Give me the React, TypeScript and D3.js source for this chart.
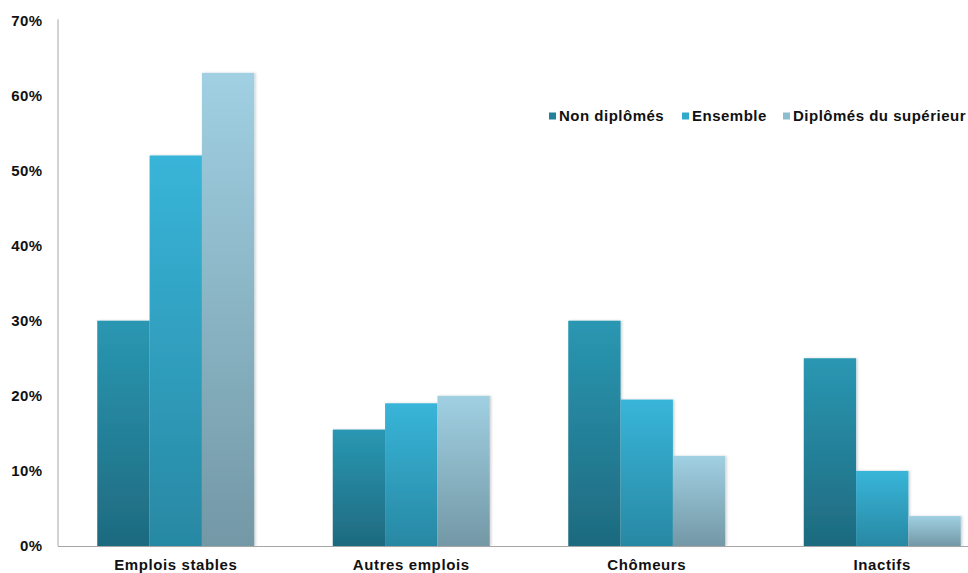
import React from "react";
import * as d3 from "d3";

const categories = ["Emplois stables", "Autres emplois", "Chômeurs", "Inactifs"];
const seriesNames = ["Non diplômés", "Ensemble", "Diplômés du supérieur"];
const nonDiplomes = [30, 15.5, 30, 25];
const ensemble = [52, 19, 19.5, 10];
const diplomesSup = [63, 20, 12, 4];
const yTicks = [0, 10, 20, 30, 40, 50, 60, 70];

const seriesValues = [nonDiplomes, ensemble, diplomesSup];
const gradients = [
  { top: "#2a97b2", bottom: "#1e6a7f" },
  { top: "#38b5d9", bottom: "#2888a3" },
  { top: "#a0d0e2", bottom: "#7398a6" },
];
const legendColors = ["#23819a", "#33a9cb", "#8fbdcf"];

export default function App() {
  const W = 968;
  const H = 573;
  const x0 = 58;
  const yBase = 546;
  const yTop = 20.3;
  const x = d3.scaleBand<string>().domain(categories).range([x0, x0 + 942]).paddingInner(1 / 3).paddingOuter(1 / 6);
  const xs = d3.scaleBand<number>().domain([0, 1, 2]).range([0, x.bandwidth()]);
  const y = d3.scaleLinear().domain([0, 70]).range([yBase, yTop]);
  const font = "'Liberation Sans', Arial, sans-serif";

  const legendItems = [
    { sx: 549, tx: 559 },
    { sx: 682, tx: 692 },
    { sx: 783, tx: 793 },
  ];

  return (
    <svg width={W} height={H} style={{ position: "absolute", left: 0, top: 0 }}>
      <defs>
        {gradients.map((g, i) => (
          <linearGradient key={i} id={`grad${i}`} x1="0" y1="0" x2="0" y2="1">
            <stop offset="0%" stopColor={g.top} />
            <stop offset="100%" stopColor={g.bottom} />
          </linearGradient>
        ))}
        <filter id="shadow" x="-10%" y="-5%" width="125%" height="110%">
          <feDropShadow dx="1.5" dy="0" stdDeviation="1" floodColor="#000" floodOpacity="0.18" />
        </filter>
      </defs>
      <rect width={W} height={H} fill="#fff" />
      {/* y tick labels */}
      {yTicks.map((t) => (
        <text
          key={t}
          x={42.3}
          y={y(t)}
          dy="0.35em"
          textAnchor="end"
          fontFamily={font}
          fontWeight="bold"
          fontSize={15}
          letterSpacing={0.3}
          fill="#111"
        >
          {t}%
        </text>
      ))}
      {/* bars */}
      {categories.map((c, ci) => (
        <g key={c} transform={`translate(${x(c)},0)`}>
          {seriesValues.map((vals, si) => (
            <rect
              key={si}
              x={xs(si)}
              y={y(vals[ci])}
              width={xs.bandwidth()}
              height={yBase - y(vals[ci])}
              fill={`url(#grad${si})`}
              filter="url(#shadow)"
            />
          ))}
        </g>
      ))}
      {/* axes */}
      <line x1={x0} x2={x0} y1={yTop - 1} y2={yBase} stroke="#a6a6a6" strokeWidth={1} />
      <line x1={x0} x2={W} y1={yBase + 0.5} y2={yBase + 0.5} stroke="#a6a6a6" strokeWidth={1} />
      {/* category labels */}
      {categories.map((c) => (
        <text
          key={c}
          x={(x(c) as number) + x.bandwidth() / 2}
          y={570}
          textAnchor="middle"
          fontFamily={font}
          fontWeight="bold"
          fontSize={15}
          letterSpacing={0.6}
          fill="#111"
        >
          {c}
        </text>
      ))}
      {/* legend */}
      {seriesNames.map((n, i) => (
        <g key={n}>
          <rect x={legendItems[i].sx} y={112.5} width={7} height={7} fill={legendColors[i]} />
          <text
            x={legendItems[i].tx}
            y={116}
            dy="0.35em"
            fontFamily={font}
            fontWeight="bold"
            fontSize={15}
            letterSpacing={0.5}
            fill="#111"
          >
            {n}
          </text>
        </g>
      ))}
    </svg>
  );
}
